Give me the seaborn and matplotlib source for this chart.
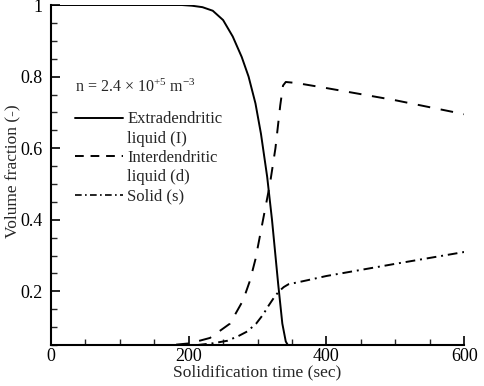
import matplotlib
matplotlib.use("Agg")
import matplotlib.pyplot as plt
import seaborn as sns
from matplotlib.lines import Line2D
from matplotlib.ticker import MultipleLocator

# values
t_extra = [0, 100, 190, 205, 220, 235, 250, 264, 277, 287, 297, 305, 314, 321, 330, 336, 341, 347]
f_extra = [1.0, 1.0, 1.0, 0.998, 0.994, 0.984, 0.958, 0.912, 0.855, 0.80, 0.725, 0.64, 0.52, 0.40, 0.22, 0.11, 0.06, 0.04]

t_inter = [148, 175, 202, 231, 260, 279, 289, 297, 308, 318, 326, 333, 337, 341, 357, 400, 500, 600]
f_inter = [0.05, 0.05, 0.055, 0.07, 0.11, 0.175, 0.23, 0.29, 0.40, 0.50, 0.60, 0.72, 0.775, 0.785, 0.782, 0.768, 0.734, 0.695]

t_solid = [150, 212, 235, 256, 272, 285, 298, 308, 316, 324, 331, 338, 345, 360, 372, 400, 500, 600]
f_solid = [0.05, 0.05, 0.055, 0.062, 0.075, 0.088, 0.11, 0.135, 0.16, 0.183, 0.20, 0.212, 0.22, 0.226, 0.231, 0.243, 0.277, 0.31]

x_ticks = [0, 200, 400, 600]
x_ticklabels = ["0", "200", "400", "600"]
y_ticks = [0.2, 0.4, 0.6, 0.8, 1.0]
y_ticklabels = ["0.2", "0.4", "0.6", "0.8", "1"]

sns.set_style("ticks")
plt.rcParams["font.family"] = ["Liberation Serif", "DejaVu Serif"]
plt.rcParams["mathtext.fontset"] = "custom"
plt.rcParams["mathtext.rm"] = "Liberation Serif"
plt.rcParams["mathtext.default"] = "regular"

ls_dash = (0, (6.5, 5.5))
ls_dashdot = (0, (5, 2.5, 1, 2.5))

fig, ax = plt.subplots(figsize=(4.85, 3.86), dpi=100)
fig.subplots_adjust(left=0.105, right=0.957, bottom=0.106, top=0.987)

sns.lineplot(x=t_extra, y=f_extra, ax=ax, color="black", linewidth=1.4, estimator=None)
sns.lineplot(x=t_inter, y=f_inter, ax=ax, color="black", linewidth=1.4, linestyle=ls_dash, estimator=None)
sns.lineplot(x=t_solid, y=f_solid, ax=ax, color="black", linewidth=1.4, linestyle=ls_dashdot, estimator=None)

ax.set_xlim(0, 600)
ax.set_ylim(0.05, 1.0)
ax.set_xticks(x_ticks)
ax.set_xticklabels(x_ticklabels)
ax.set_yticks(y_ticks)
ax.set_yticklabels(y_ticklabels)
ax.xaxis.set_minor_locator(MultipleLocator(50))
ax.yaxis.set_minor_locator(MultipleLocator(0.05))
ax.tick_params(which="major", direction="in", length=6.5, width=1.2, labelsize=13, colors="black")
ax.tick_params(axis="y", which="major", pad=6)
ax.tick_params(axis="x", which="major", pad=2)
ax.tick_params(which="minor", direction="in", length=4, width=1)
sns.despine(ax=ax)
for s in ["left", "bottom"]:
    ax.spines[s].set_linewidth(1.5)
    ax.spines[s].set_color("black")

ax.set_xlabel("Solidification time (sec)", fontsize=12.5)
ax.set_ylabel("Volume fraction (-)", fontsize=12.5)
ax.xaxis.set_label_coords(0.5, -0.058)
ax.yaxis.set_label_coords(-0.075, 0.51)

handles = [
    Line2D([], [], color="black", linewidth=1.4),
    Line2D([], [], color="none"),
    Line2D([], [], color="black", linewidth=1.4, linestyle=(0, (4.5, 3.5))),
    Line2D([], [], color="none"),
    Line2D([], [], color="black", linewidth=1.2, linestyle=(0, (4, 2, 1, 2))),
]
labels = ["Extradendritic", "liquid (I)", "Interdendritic", "liquid (d)", "Solid (s)"]
leg = ax.legend(handles, labels, title="n = 2.4 × 10$^{+5}$ m$^{-3}$",
                loc="upper left", bbox_to_anchor=(0.058, 0.783), frameon=False,
                fontsize=12, title_fontsize=11.5, handlelength=2.9,
                handletextpad=0.25, labelspacing=0.2, borderpad=0,
                borderaxespad=0, alignment="left")
leg._legend_box.sep = 11

fig.savefig("out.png", dpi=100)
